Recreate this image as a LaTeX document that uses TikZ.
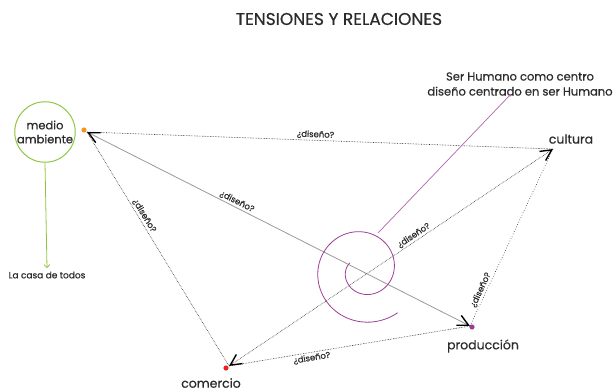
\documentclass[tikz,border=0pt]{standalone}
\usepackage{fontspec}
\setmainfont{Poppins}[FakeBold=0.6]
\usetikzlibrary{arrows.meta}
\definecolor{verde}{HTML}{8DC63F}
\definecolor{naranja}{HTML}{F7941D}
\definecolor{morado}{HTML}{9E3D97}
\definecolor{rojo}{HTML}{ED2024}
\definecolor{texto}{HTML}{2B2B2B}
\tikzset{
  etiqueta/.style={font=\fontsize{12.5}{14}\selectfont, text=texto},
  pregunta/.style={font=\fontsize{8.5}{9}\selectfont, text=texto, sloped, inner sep=1.5pt},
  enlace/.style={densely dotted, black!85, line width=0.6pt},
  flecha/.style={{Straight Barb[length=11pt,width=11pt,line width=1.4pt,color=black]}-{Straight Barb[length=11pt,width=11pt,line width=1.4pt,color=black]}}
}

\begin{document}
\begin{tikzpicture}[x=1pt,y=-1pt]
\useasboundingbox (0,0) rectangle (614,391);
\node[font=\fontsize{17}{19}\selectfont, text=texto] (titulo) at (339,19) {TENSIONES Y RELACIONES};
\node[circle, draw=verde, line width=1pt, minimum size=59pt, inner sep=0pt, align=center, font=\fontsize{11.5}{14}\selectfont, text=texto] (medioamb) at (45,132) {medio\\ambiente};
\node[font=\fontsize{9}{10}\selectfont, text=texto] (casa) at (47,275) {La casa de todos};
\draw[verde, line width=0.8pt, -{Straight Barb[length=3pt,width=6pt]}] (medioamb.south) -- (casa.north);
\coordinate (medio) at (87,132);
\coordinate (cultura) at (553,149);
\coordinate (produccion) at (470,326);
\coordinate (comercio) at (229,366);
\fill[naranja] (84,130) circle (2.6);
\fill[morado] (472,327) circle (2.6);
\fill[rojo] (226,368) circle (2.6);
\draw[enlace] (medio) -- node[pregunta, above, pos=0.49] {¿diseño?} (cultura);
\draw[enlace] (medio) -- node[pregunta, above, pos=0.37] {¿diseño?} (comercio);
\draw[flecha, black!40, line width=0.8pt] (medio) -- node[pregunta, above, pos=0.385] {¿diseño?} (produccion);
\draw[flecha, enlace] (comercio) -- node[pregunta, above, pos=0.58] {¿diseño?} (cultura);
\draw[enlace, dotted] (produccion) -- node[pregunta, above, pos=0.19] {¿diseño?} (cultura);
\draw[enlace] (comercio) -- node[pregunta, below, pos=0.34] {¿diseño?} (produccion);
\node[etiqueta] (culturatxt) at (571,139) {cultura};
\node[etiqueta] (produccionttxt) at (483,346) {producción};
\node[etiqueta] (comerciotxt) at (211,383) {comercio};
\draw[morado, line width=0.8pt] plot[domain=152:669, samples=150, variable=\t] ({363+(15+0.0774*(\t-152))*cos(\t)}, {270-(15+0.0774*(\t-152))*sin(\t)});
\node[align=center, font=\fontsize{11.5}{15}\selectfont, text=texto] (centro) at (520,84) {Ser Humano como centro\\diseño centrado en ser Humano};
\coordinate (espiral) at (378,233);
\coordinate (humano) at (511,94);
\draw[morado!80, line width=0.7pt, -{Stealth[length=3pt,width=3pt]}] (espiral) -- (humano);
\end{tikzpicture}
\end{document}
